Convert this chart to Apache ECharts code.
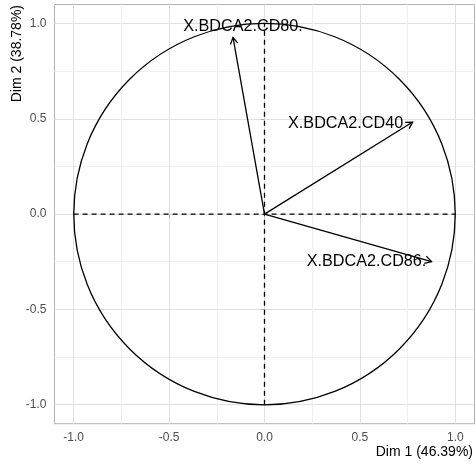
<!DOCTYPE html>
<html>
<head>
<meta charset="utf-8">
<script src="https://cdn.jsdelivr.net/npm/echarts@6/dist/echarts.min.js"></script>
<style>
  html, body { margin: 0; padding: 0; background: #fff; }
  #chart { width: 476px; height: 464px; }
</style>
</head>
<body>
<div id="chart"></div>
<script>
// Variable correlation circle (PCA), Dim 1 vs Dim 2
const varNames = ['X.BDCA2.CD80.', 'X.BDCA2.CD40', 'X.BDCA2.CD86.'];
const dim1 = [-0.165, 0.776, 0.875];
const dim2 = [0.927, 0.483, -0.249];

const majorTicks = [-1.0, -0.5, 0.0, 0.5, 1.0];
const minorTicks = [-0.75, -0.25, 0.25, 0.75];
const axisTitleX = 'Dim 1 (46.39%)';
const axisTitleY = 'Dim 2 (38.78%)';

// dashed reference lines through the origin
const hLine = [[-1, 0], [1, 0]];
const vLine = [[0, -1], [0, 1]];

// pixel nudges of each variable label relative to its arrow tip
const labelNudge = [[10, -11], [-67, 1], [-65, 0]];

const FONT = '"Liberation Sans", Arial, Helvetica, sans-serif';

const chart = echarts.init(document.getElementById('chart'), null, { renderer: 'canvas' });

function valueAxis(minor) {
  return {
    type: 'value',
    min: -1.1,
    max: 1.1,
    axisLine: { show: false },
    axisTick: {
      show: !minor,
      customValues: minor ? minorTicks : majorTicks,
      length: 4,
      lineStyle: { color: '#b3b3b3', width: 1 }
    },
    axisLabel: {
      show: !minor,
      customValues: majorTicks,
      formatter: v => Number(v).toFixed(1),
      color: '#4d4d4d',
      fontSize: 12,
      fontFamily: FONT,
      margin: 8
    },
    splitLine: {
      show: true,
      lineStyle: { color: minor ? '#f0f0f0' : '#e0e0e0', width: 1 }
    },
    minorSplitLine: { show: false }
  };
}

const arrowData = dim1.map((x, i) => [x, dim2[i], i]);

chart.setOption({
  animation: false,
  backgroundColor: '#ffffff',
  grid: {
    left: 54.5,
    right: 1.5,
    top: 4.5,
    bottom: 40.3,
    show: true,
    borderColor: '#b3b3b3',
    borderWidth: 1,
    backgroundColor: 'transparent'
  },
  xAxis: [valueAxis(false), valueAxis(true)],
  yAxis: [valueAxis(false), valueAxis(true)],
  graphic: [
    {
      type: 'text',
      right: 3,
      top: 445,
      style: { text: axisTitleX, font: '14px ' + FONT, fill: '#000' }
    },
    {
      type: 'text',
      x: 17,
      y: 5,
      rotation: Math.PI / 2,
      style: {
        text: axisTitleY,
        font: '14px ' + FONT,
        fill: '#000',
        align: 'right',
        verticalAlign: 'middle'
      }
    }
  ],
  series: [
    {
      type: 'line',
      data: hLine,
      symbol: 'none',
      silent: true,
      lineStyle: { color: '#000', width: 1.3, type: [5, 4] },
      z: 3
    },
    {
      type: 'line',
      data: vLine,
      symbol: 'none',
      silent: true,
      lineStyle: { color: '#000', width: 1.3, type: [5, 4] },
      z: 3
    },
    {
      // unit circle
      type: 'custom',
      silent: true,
      z: 4,
      data: [[0, 0]],
      renderItem: function (params, api) {
        const c = api.coord([api.value(0), api.value(1)]);
        const s = api.size([1, 1]);
        return {
          type: 'circle',
          shape: { cx: c[0], cy: c[1], r: (s[0] + s[1]) / 2 },
          style: { fill: 'none', stroke: '#000', lineWidth: 1.3 }
        };
      }
    },
    {
      // variable arrows with open heads and labels
      type: 'custom',
      silent: true,
      z: 5,
      data: arrowData,
      renderItem: function (params, api) {
        const o = api.coord([0, 0]);
        const p = api.coord([api.value(0), api.value(1)]);
        const idx = api.value(2);
        const ang = Math.atan2(p[1] - o[1], p[0] - o[0]);
        const len = 7.5, spread = Math.PI / 6;
        const h1 = [p[0] - len * Math.cos(ang - spread), p[1] - len * Math.sin(ang - spread)];
        const h2 = [p[0] - len * Math.cos(ang + spread), p[1] - len * Math.sin(ang + spread)];
        const nudge = labelNudge[idx];
        return {
          type: 'group',
          children: [
            {
              type: 'line',
              shape: { x1: o[0], y1: o[1], x2: p[0], y2: p[1] },
              style: { stroke: '#000', lineWidth: 1.3 }
            },
            {
              type: 'polyline',
              shape: { points: [h1, p, h2] },
              style: { stroke: '#000', lineWidth: 1.3, fill: 'none' }
            },
            {
              type: 'text',
              x: p[0] + nudge[0],
              y: p[1] + nudge[1],
              style: {
                text: varNames[idx],
                font: '16.2px ' + FONT,
                fill: '#000',
                align: 'center',
                verticalAlign: 'middle'
              }
            }
          ]
        };
      }
    }
  ]
});
</script>
</body>
</html>
